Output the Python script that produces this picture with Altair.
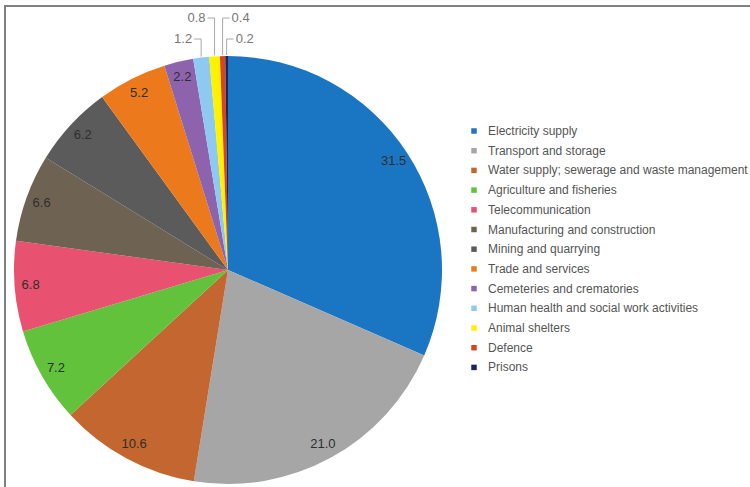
import math
import altair as alt
import pandas as pd

categories = [
    "Electricity supply",
    "Transport and storage",
    "Water supply; sewerage and waste management",
    "Agriculture and fisheries",
    "Telecommunication",
    "Manufacturing and construction",
    "Mining and quarrying",
    "Trade and services",
    "Cemeteries and crematories",
    "Human health and social work activities",
    "Animal shelters",
    "Defence",
    "Prisons",
]
values = [31.5, 21.0, 10.6, 7.2, 6.8, 6.6, 6.2, 5.2, 2.2, 1.2, 0.8, 0.4, 0.2]
colors = [
    "#1a76c2", "#a6a6a6", "#c4662f", "#63c23c", "#e8516f", "#6e6352",
    "#5b5b5b", "#ec7a1c", "#8e63ad", "#8ec9f2", "#fff200", "#d9441c", "#1c2559",
]
# small slices labelled outside: side of label and label row (px from top)
outside = {
    "Human health and social work activities": ("left", 39),
    "Animal shelters": ("left", 18),
    "Defence": ("right", 18),
    "Prisons": ("right", 39),
}

W, H = 750, 487
CX, CY, R = 228, 270, 214

df = pd.DataFrame({"category": categories, "value": values, "idx": range(len(values))})
df["inner"] = [("" if c in outside else f"{v:.1f}") for c, v in zip(categories, values)]

# leader lines for the small slices
total = sum(values)
cum = 0.0
seg_rows, lab_rows = [], []
for c, v in zip(categories, values):
    mid = 2 * math.pi * (cum + v / 2) / total
    cum += v
    if c not in outside:
        continue
    side, ly = outside[c]
    px = CX + R * math.sin(mid)
    py = CY - R * math.cos(mid)
    sgn = -1 if side == "left" else 1
    seg_rows.append({"x": px, "y": py - 1, "x2": px, "y2": ly})
    seg_rows.append({"x": px, "y": ly, "x2": px + sgn * 7, "y2": ly})
    lab_rows.append({"x": px + sgn * 9, "y": ly, "text": f"{v:.1f}", "side": side})
segs = pd.DataFrame(seg_rows)
labs = pd.DataFrame(lab_rows)

xs = alt.Scale(domain=[0, W], nice=False, zero=False)
ys = alt.Scale(domain=[0, H], nice=False, zero=False, reverse=True)

theta = alt.Theta("value:Q", stack=True)
order = alt.Order("idx:Q")

pie = alt.Chart(df).mark_arc(radius=R).encode(
    theta=theta,
    order=order,
    x=alt.value(CX),
    y=alt.value(CY),
    color=alt.Color(
        "category:N",
        scale=alt.Scale(domain=categories, range=colors),
        sort=categories,
        legend=alt.Legend(
            title=None, orient="none", legendX=468, legendY=125, padding=0,
            symbolType="square", symbolSize=30, symbolStrokeWidth=0,
            labelFontSize=12, labelFont="Liberation Sans", labelColor="#555555",
            labelOffset=8, labelLimit=600, rowPadding=7.7,
        ),
    ),
)

inner = alt.Chart(df).mark_text(
    radius=198, fontSize=13, font="Liberation Sans", color="#2e2e2e"
).encode(theta=theta, order=order, x=alt.value(CX), y=alt.value(CY), text="inner:N")

leaders = alt.Chart(segs).mark_rule(color="#a8a8a8", strokeWidth=1).encode(
    x=alt.X("x:Q", scale=xs, axis=None),
    y=alt.Y("y:Q", scale=ys, axis=None),
    x2="x2:Q",
    y2="y2:Q",
)

lab_left = alt.Chart(labs).transform_filter(alt.datum.side == "left").mark_text(
    align="right", baseline="middle", fontSize=13, font="Liberation Sans", color="#777777"
).encode(x=alt.X("x:Q", scale=xs, axis=None), y=alt.Y("y:Q", scale=ys, axis=None), text="text:N")

lab_right = alt.Chart(labs).transform_filter(alt.datum.side == "right").mark_text(
    align="left", baseline="middle", fontSize=13, font="Liberation Sans", color="#777777"
).encode(x=alt.X("x:Q", scale=xs, axis=None), y=alt.Y("y:Q", scale=ys, axis=None), text="text:N")

frame_top = alt.Chart().mark_rule(color="#808080", strokeWidth=2).encode(
    x=alt.value(4), x2=alt.value(W), y=alt.value(6)
)
frame_left = alt.Chart().mark_rule(color="#808080", strokeWidth=2).encode(
    x=alt.value(5), y=alt.value(6), y2=alt.value(H)
)

chart = alt.layer(pie, inner, leaders, lab_left, lab_right, frame_top, frame_left).properties(
    width=W, height=H, padding=0, autosize=alt.AutoSizeParams(type="none"), background="white"
).configure_view(stroke=None)

chart.save("out.html", embed_options={"renderer": "svg", "actions": False})
